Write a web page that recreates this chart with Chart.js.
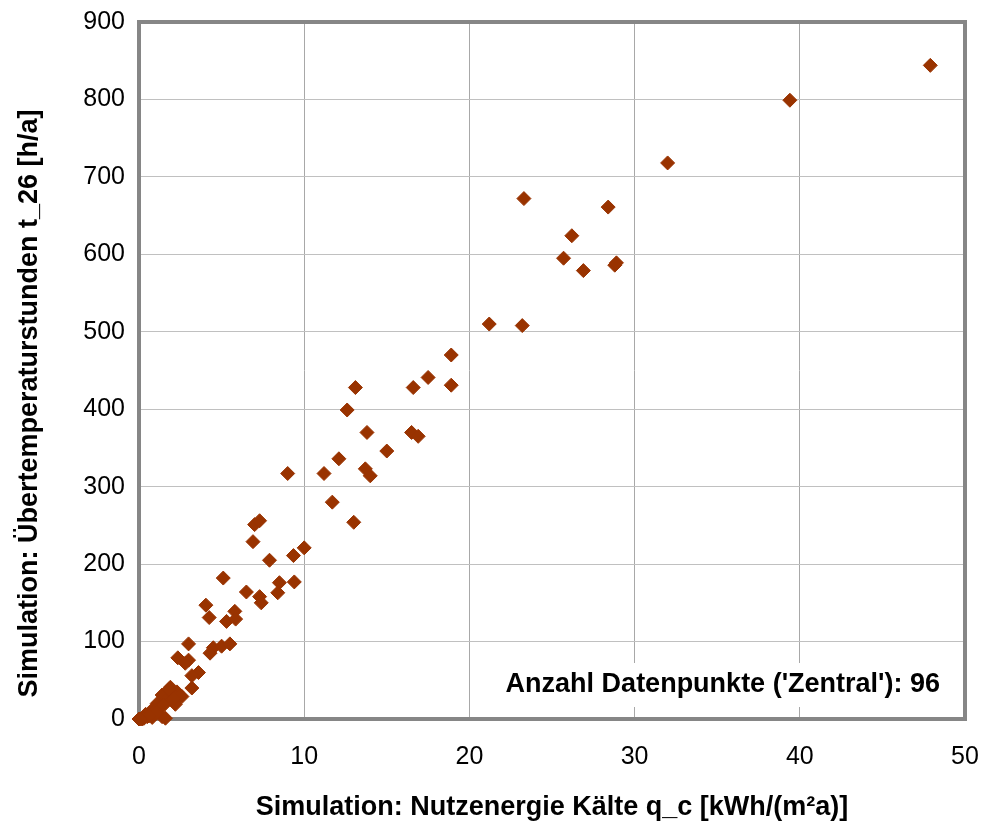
<!DOCTYPE html>
<html>
<head>
<meta charset="utf-8">
<script src="https://cdn.jsdelivr.net/npm/chart.js@4/dist/chart.umd.min.js"></script>
<style>
html,body{margin:0;padding:0;background:#fff;}
#wrap{width:984px;height:826px;position:relative;}
</style>
</head>
<body>
<div id="wrap"><canvas id="c" width="984" height="826"></canvas></div>
<script>
// Nutzenergie Kälte q_c [kWh/(m²a)]
const qc = [
  47.9, 39.4, 32.0, 23.3, 28.4, 26.2, 25.7, 26.9, 28.8, 28.9, 21.2, 23.2,
  18.9, 17.5, 16.6, 18.9, 13.1, 12.6, 13.8, 16.5, 16.9, 15.0, 12.1, 13.7, 14.0, 11.2, 9.0, 11.7, 13.0,
  7.0, 7.3, 6.9, 7.9, 9.35, 10.0, 5.1,
  6.5, 7.3, 7.4, 8.5, 8.4, 9.4,
  4.05, 4.25, 5.8, 5.3, 5.85, 3.0, 4.5, 5.0, 5.5, 4.3, 2.35, 3.0, 2.8,
  3.6, 3.2, 3.2, 1.9, 2.3, 2.6, 1.4, 1.6, 1.1, 2.2, 0.8, 1.4, 1.6, 0.4, 0.0, 0.2, 0.8, 2.0, 1.2, 0.5,
  2.5, 1.8, 0.9, 0.3, 1.0, 2.1, 1.5, 0.6, 0.1
];
// Übertemperaturstunden t_26 [h/a]
const t26 = [
  844, 799, 718, 672, 661, 624, 595, 579, 586, 589, 510, 508,
  470, 441, 428, 431, 428, 399, 370, 370, 365, 346, 336, 323, 314, 317, 317, 280, 254,
  251, 256, 229, 205, 211, 221, 182,
  164, 158, 150, 176, 163, 177,
  147, 131, 139, 126, 129, 97, 92, 94, 97, 85, 79, 76, 72,
  60, 56, 40, 41, 35, 29, 31, 24, 20, 19, 12, 3, 1, 6, 0, 0, 2, 33, 15, 3,
  30, 38, 9, 1, 7, 26, 18, 4, 0
];
const xTicks = [0, 10, 20, 30, 40, 50];
const yTicks = [0, 100, 200, 300, 400, 500, 600, 700, 800, 900];
const xTitle = "Simulation: Nutzenergie Kälte q_c [kWh/(m²a)]";
const yTitle = "Simulation: Übertemperaturstunden t_26 [h/a]";
const noteText = "Anzahl Datenpunkte ('Zentral'): 96";

const points = qc.map((v, i) => ({x: v, y: t26[i]}));
const FONT = "'Liberation Sans', Arial, sans-serif";

const framePlugin = {
  id: 'frame',
  beforeDatasetsDraw(chart) {
    const {ctx, chartArea: a} = chart;
    ctx.save();
    // annotation with white background
    ctx.font = "bold 27px " + FONT;
    ctx.textAlign = 'right';
    ctx.textBaseline = 'middle';
    const tx = a.right - 25, ty = a.bottom - 34;
    const w = ctx.measureText(noteText).width;
    ctx.fillStyle = '#fff';
    ctx.fillRect(tx - w - 8, ty - 22, w + 16, 44);
    ctx.fillStyle = '#000';
    ctx.fillText(noteText, tx, ty);
    // frame
    ctx.strokeStyle = '#868686';
    ctx.lineWidth = 4;
    ctx.strokeRect(a.left, a.top, a.right - a.left, a.bottom - a.top);
    // y axis title (slightly below the plot centre, as in the original)
    ctx.translate(30, (a.top + a.bottom) / 2 + 33);
    ctx.rotate(-Math.PI / 2);
    ctx.textAlign = 'center';
    ctx.fillText(yTitle, 0, 0);
    ctx.restore();
  }
};

new Chart(document.getElementById('c'), {
  type: 'scatter',
  data: {
    datasets: [{
      data: points,
      pointStyle: 'rectRot',
      pointRadius: 7,
      pointHoverRadius: 7,
      backgroundColor: '#993300',
      borderColor: '#993300',
      borderWidth: 1,
      clip: false
    }]
  },
  options: {
    responsive: false,
    animation: false,
    events: [],
    layout: {padding: {left: 0, right: 19, top: 22, bottom: 0}},
    plugins: {legend: {display: false}, tooltip: {enabled: false}},
    scales: {
      x: {
        type: 'linear', min: 0, max: 50,
        afterBuildTicks: s => { s.ticks = xTicks.map(v => ({value: v})); },
        afterFit: s => { s.height = 107; s.paddingLeft = 0; s.paddingRight = 0; },
        grid: {color: '#a8a8a8', lineWidth: 1, drawTicks: false},
        border: {display: false},
        ticks: {color: '#000', padding: 23, font: {family: FONT, size: 25}},
        title: {display: true, text: xTitle, color: '#000', padding: {top: 0, bottom: 2},
                font: {family: FONT, size: 27, weight: 'bold'}}
      },
      y: {
        type: 'linear', min: 0, max: 900,
        afterBuildTicks: s => { s.ticks = yTicks.map(v => ({value: v})); },
        afterFit: s => { s.width = 139; s.paddingTop = 0; s.paddingBottom = 0; },
        grid: {color: '#c0c0c0', lineWidth: 1, drawTicks: false},
        border: {display: false},
        ticks: {color: '#000', padding: 14, font: {family: FONT, size: 25}},
        title: {display: false}
      }
    }
  },
  plugins: [framePlugin]
});
</script>
</body>
</html>
